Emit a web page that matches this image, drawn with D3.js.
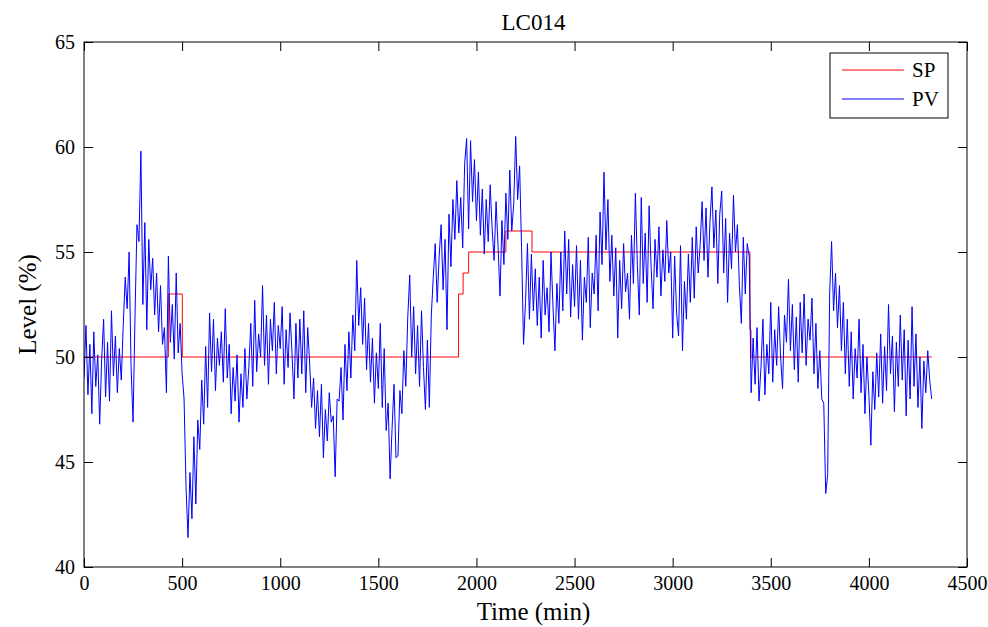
<!DOCTYPE html>
<html lang="en">
<head>
  <meta charset="UTF-8">
  <title>LC014</title>
  <script src="https://d3js.org/d3.v7.min.js"></script>
  <style>
    body { margin: 0; background: #fff; }
    svg text { font-family: "Liberation Serif", "Times New Roman", serif; fill: #000; }
  </style>
</head>
<body>
  <div id="chart"></div>
  <script>
    // Set point (SP): step changes, value holds until next time
    const spTime = [0, 430, 501, 1909, 1932, 1960, 2150, 2283, 3394, 3399, 4320];
    const spValue = [50, 53, 50, 53, 54, 55, 56, 55, 51.3, 50, 50];

    // Process value (PV), sampled every 10 min from 0 to 4320
    const pvStep = 10;
    const pvValue = [
      49.0, 51.5, 48.2, 50.6, 47.3, 51.2, 48.6, 50.1, 46.8, 49.9,
      51.8, 48.1, 50.7, 47.9, 52.2, 49.1, 51.0, 48.3, 50.4, 48.9,
      51.5, 53.8, 52.3, 55.0, 49.5, 46.9, 52.0, 56.3, 55.5, 59.8,
      52.5, 56.4, 51.3, 55.6, 53.2, 54.7, 52.0, 54.0, 51.2, 53.4,
      50.6, 51.4, 48.3, 54.8, 50.7, 52.5, 49.9, 54.0, 50.2, 51.6,
      49.2, 48.0, 43.8, 41.4, 44.5, 42.3, 46.2, 43.0, 47.0, 45.6,
      48.9, 46.8, 50.5, 47.6, 52.1, 49.3, 51.8, 48.4, 50.9, 49.6,
      51.2, 48.8, 52.3, 49.0, 50.6, 47.3, 49.5, 47.9, 50.1, 46.9,
      49.2, 47.6, 50.4, 48.0, 49.5, 51.6, 48.6, 52.7, 49.3, 51.1,
      50.0, 53.4, 49.6, 52.0, 48.7, 51.8, 50.3, 52.6, 49.2, 51.5,
      50.4, 52.4, 48.7, 51.3, 49.5, 52.1, 50.2, 48.0, 51.6, 49.0,
      51.8, 49.2, 52.2, 48.3, 51.4, 49.7, 47.6, 49.0, 46.6, 48.4,
      46.2, 48.7, 45.2, 47.5, 46.0, 48.3, 46.9, 47.2, 44.3, 48.0,
      47.9, 49.5, 47.0, 50.6, 48.4, 51.2, 49.0, 52.0, 50.3, 54.6,
      51.5, 53.3, 50.6, 52.8, 49.4, 51.6, 48.8, 50.9, 47.8, 50.2,
      48.5, 51.6, 47.6, 50.4, 46.5, 47.8, 44.2, 46.6, 48.7, 45.2,
      45.3, 48.4, 47.3, 50.3, 48.6, 51.9, 53.9, 50.0, 52.4, 49.2,
      51.5, 48.6, 52.2, 49.5, 47.5, 50.8, 47.6, 52.0, 53.8, 55.4,
      52.6, 54.8, 56.3, 53.2, 55.6, 51.3, 56.8, 54.3, 57.5, 55.6,
      58.4, 55.9, 57.6, 55.2, 59.2, 60.4, 56.1, 60.3, 57.4, 59.4,
      56.5, 58.8, 55.8, 58.0, 54.9, 57.5, 55.5, 58.2, 56.1, 54.6,
      57.4, 55.3, 52.9, 56.5, 54.4, 57.8, 55.6, 58.9, 56.0, 57.3,
      60.5, 57.5, 59.1, 55.2, 50.6, 52.6, 55.4, 51.8, 54.9, 52.2,
      54.2, 51.5, 53.8, 50.9, 54.6, 52.0, 53.3, 51.2, 55.0, 52.4,
      50.3, 53.5, 51.6, 55.0, 52.2, 56.0, 53.0, 55.6, 51.9, 54.4,
      52.4, 55.3, 51.8, 54.6, 50.8, 53.8, 52.6, 55.7, 51.4, 54.0,
      53.0, 55.8, 52.2, 56.9, 54.4, 58.8, 55.1, 57.5, 53.6, 55.8,
      52.9, 55.2, 50.9, 54.6, 52.3, 55.4, 53.1, 54.0, 51.8, 55.8,
      53.5, 57.8, 54.4, 52.0, 57.6, 53.5, 55.9, 52.6, 57.2, 54.3,
      52.3, 55.6, 53.8, 56.2, 52.9, 55.1, 53.6, 56.5, 54.0, 55.0,
      50.9, 54.8, 52.1, 51.0, 55.3, 50.3, 53.6, 51.8, 54.9, 52.6,
      55.7, 52.8, 56.2, 54.0, 55.3, 57.4, 54.6, 57.1, 53.8, 56.4,
      58.1, 55.2, 57.0, 53.5, 56.8, 57.9, 54.0, 56.6, 52.6, 55.9,
      54.2, 57.7, 55.0, 56.3, 53.4, 51.6, 55.7, 53.0, 55.4, 54.8,
      48.3, 50.9, 48.7, 51.4, 47.9, 49.5, 51.8, 48.2, 50.6, 49.2,
      52.6, 48.8, 51.3, 49.6, 52.4, 50.0, 48.5, 52.0, 50.7, 53.7,
      50.3, 52.5, 49.4, 51.9, 48.8, 52.6, 50.2, 53.0, 49.6, 51.8,
      50.8, 52.8, 49.2, 51.6, 48.5, 50.3, 48.0, 47.8, 43.5, 44.4,
      53.0, 55.5, 52.2, 54.0, 51.4, 53.4, 50.3, 52.6, 49.2, 51.8,
      48.6, 51.2, 48.0, 50.4, 49.0, 51.8, 48.3, 50.6, 47.3, 50.0,
      48.2, 45.8, 49.3, 47.5, 50.2, 48.1, 51.1, 47.8, 50.5, 48.4,
      52.5, 49.2, 51.0, 47.4, 50.7, 48.6, 52.0, 48.9, 51.3, 47.2,
      50.8, 48.0, 52.4, 48.6, 51.1, 47.6, 50.0, 46.6, 49.8, 48.3,
      50.3, 48.9, 48.0
    ];

    const xTicks = [0, 500, 1000, 1500, 2000, 2500, 3000, 3500, 4000, 4500];
    const yTicks = [40, 45, 50, 55, 60, 65];

    const width = 988, height = 627;
    const margin = { top: 42, right: 21, bottom: 60, left: 84 };
    const innerW = width - margin.left - margin.right;
    const innerH = height - margin.top - margin.bottom;

    const svg = d3.select("#chart").append("svg")
      .attr("width", width)
      .attr("height", height);

    const g = svg.append("g")
      .attr("transform", `translate(${margin.left},${margin.top})`);

    const x = d3.scaleLinear().domain([0, 4500]).range([0, innerW]);
    const y = d3.scaleLinear().domain([40, 65]).range([innerH, 0]);

    g.append("clipPath").attr("id", "clip")
      .append("rect").attr("width", innerW).attr("height", innerH);

    // lines
    const sp = spTime.map((t, i) => [t, spValue[i]]);
    const pv = pvValue.map((v, i) => [i * pvStep, v]);

    const spLine = d3.line().x(d => x(d[0])).y(d => y(d[1])).curve(d3.curveStepAfter);
    const pvLine = d3.line().x(d => x(d[0])).y(d => y(d[1]));

    g.append("path").datum(sp)
      .attr("clip-path", "url(#clip)")
      .attr("fill", "none").attr("stroke", "#ff0000").attr("stroke-width", 1)
      .attr("d", spLine);

    g.append("path").datum(pv)
      .attr("clip-path", "url(#clip)")
      .attr("fill", "none").attr("stroke", "#0000ff").attr("stroke-width", 1)
      .attr("d", pvLine);

    // axes, MATLAB style: ticks inward on all four sides
    const tickLen = 9;
    g.append("g").attr("transform", `translate(0,${innerH})`)
      .call(d3.axisBottom(x).tickValues(xTicks).tickFormat(d3.format("d"))
        .tickSizeInner(-tickLen).tickSizeOuter(0).tickPadding(9))
      .call(a => a.select(".domain").remove());
    g.append("g")
      .call(d3.axisTop(x).tickValues(xTicks).tickSizeInner(-tickLen).tickSizeOuter(0).tickFormat(""))
      .call(a => a.select(".domain").remove());
    g.append("g")
      .call(d3.axisLeft(y).tickValues(yTicks).tickFormat(d3.format("d"))
        .tickSizeInner(-tickLen).tickSizeOuter(0).tickPadding(9))
      .call(a => a.select(".domain").remove());
    g.append("g").attr("transform", `translate(${innerW},0)`)
      .call(d3.axisRight(y).tickValues(yTicks).tickSizeInner(-tickLen).tickSizeOuter(0).tickFormat(""))
      .call(a => a.select(".domain").remove());

    g.selectAll(".tick line").attr("stroke", "#000");
    g.selectAll(".tick text").attr("font-size", 20).attr("font-family", "Liberation Serif");

    g.append("rect")
      .attr("width", innerW).attr("height", innerH)
      .attr("fill", "none").attr("stroke", "#000").attr("stroke-width", 1);

    // title and labels
    svg.append("text")
      .attr("x", margin.left + innerW / 2 + 8).attr("y", 30)
      .attr("text-anchor", "middle").attr("font-size", 23)
      .text("LC014");

    svg.append("text")
      .attr("x", margin.left + innerW / 2 + 8).attr("y", 620)
      .attr("text-anchor", "middle").attr("font-size", 25)
      .text("Time (min)");

    svg.append("text")
      .attr("transform", `translate(36,${margin.top + innerH / 2}) rotate(-90)`)
      .attr("text-anchor", "middle").attr("font-size", 25)
      .text("Level (%)");

    // legend
    const legend = svg.append("g").attr("transform", "translate(830,53)");
    legend.append("rect")
      .attr("width", 118).attr("height", 65)
      .attr("fill", "#fff").attr("stroke", "#000").attr("stroke-width", 1);
    const items = [["SP", "#ff0000"], ["PV", "#0000ff"]];
    items.forEach(([name, color], i) => {
      const yy = 17 + i * 29;
      legend.append("line")
        .attr("x1", 12).attr("x2", 74).attr("y1", yy).attr("y2", yy)
        .attr("stroke", color).attr("stroke-width", 1);
      legend.append("text")
        .attr("x", 82).attr("y", yy + 7)
        .attr("font-size", 21)
        .text(name);
    });
  </script>
</body>
</html>
